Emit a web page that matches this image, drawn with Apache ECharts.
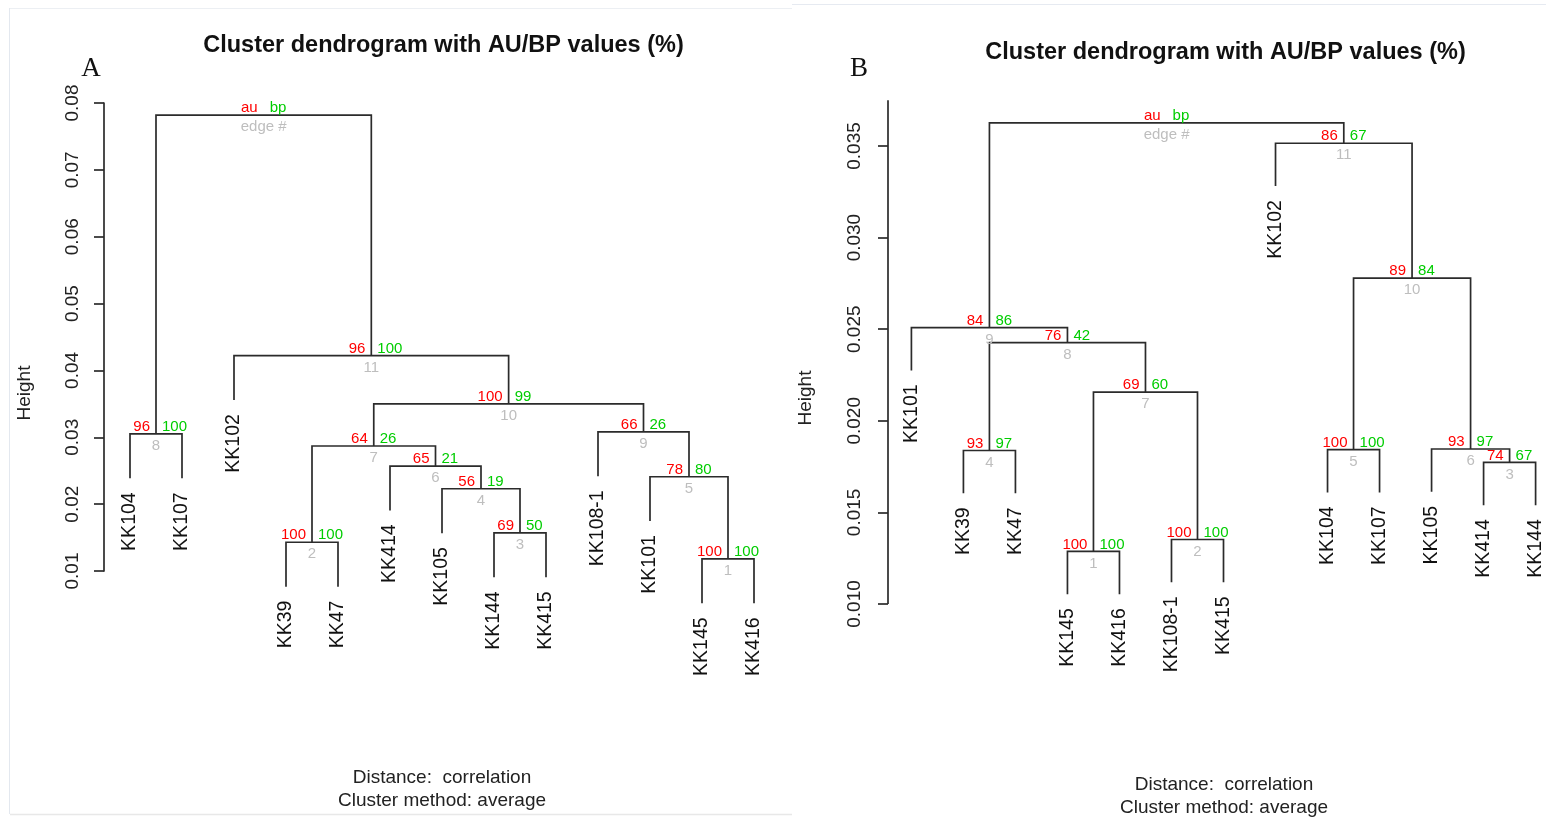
<!DOCTYPE html>
<html>
<head>
<meta charset="utf-8">
<title>Cluster dendrogram with AU/BP values (%)</title>
<script src="https://cdn.jsdelivr.net/npm/echarts@6/dist/echarts.min.js"></script>
<style>
  html, body { margin: 0; padding: 0; background: #fff; }
  #main { width: 1546px; height: 817px; }
</style>
</head>
<body>
<div id="main"></div>
<script>
// Panel A: leaves in plot order, merges as in hclust (negative = leaf position, positive = earlier merge row)
var leavesA = ['KK104', 'KK107', 'KK102', 'KK39', 'KK47', 'KK414', 'KK105', 'KK144', 'KK415', 'KK108-1', 'KK101', 'KK145', 'KK416'];
var mergeA = [[-12, -13], [-4, -5], [-8, -9], [-7, 3], [-11, 1], [-6, 4], [2, 6], [-1, -2], [-10, 5], [7, 9], [-3, 10], [8, 11]];
var heightA = [0.0118, 0.0143, 0.0157, 0.0223, 0.0241, 0.0257, 0.0287, 0.0305, 0.0308, 0.0350, 0.0422, 0.0782];
var auA = ['100', '100', '69', '56', '78', '65', '64', '96', '66', '100', '96', 'au'];
var bpA = ['100', '100', '50', '19', '80', '21', '26', '100', '26', '99', '100', 'bp'];
var ticksA = [0.01, 0.02, 0.03, 0.04, 0.05, 0.06, 0.07, 0.08];

// Panel B
var leavesB = ['KK101', 'KK39', 'KK47', 'KK145', 'KK416', 'KK108-1', 'KK415', 'KK102', 'KK104', 'KK107', 'KK105', 'KK414', 'KK144'];
var mergeB = [[-4, -5], [-6, -7], [-12, -13], [-2, -3], [-9, -10], [-11, 3], [1, 2], [4, 7], [-1, 8], [5, 6], [-8, 10], [9, 11]];
var heightB = [0.01287, 0.01352, 0.01773, 0.01838, 0.01843, 0.01846, 0.02156, 0.02427, 0.02509, 0.02779, 0.03515, 0.03626];
var auB = ['100', '100', '74', '93', '100', '93', '69', '76', '84', '89', '86', 'au'];
var bpB = ['100', '100', '67', '97', '100', '97', '60', '42', '86', '84', '67', 'bp'];
var ticksB = [0.010, 0.015, 0.020, 0.025, 0.030, 0.035];
var axisTopB = 0.0375;

var FONT = '"Liberation Sans", Arial, Helvetica, sans-serif';
var LINE = '#2b2b2b';

// turn merge rows into segment data, the way plot.hclust does (hang = 10% of height range)
function buildTree (merge, heights) {
  var hang = 0.1 * (Math.max.apply(null, heights) - Math.min.apply(null, heights));
  var nodeX = [];
  var nodes = [];
  var leaves = [];
  merge.forEach(function (pair, i) {
    var h = heights[i];
    var ends = pair.map(function (c) {
      if (c < 0) {
        leaves[-c - 1] = [-c - 1, h - hang];
        return [-c - 1, h - hang];
      }
      return [nodeX[c - 1], heights[c - 1]];
    });
    nodeX[i] = (ends[0][0] + ends[1][0]) / 2;
    nodes.push([ends[0][0], ends[1][0], h, ends[0][1], ends[1][1]]);
  });
  return { nodes: nodes, leaves: leaves };
}

function txt (x, y, s, color, align, size) {
  return {
    type: 'text', x: x, y: y,
    style: { text: s, fill: color, font: (size || 15) + 'px ' + FONT, align: align, verticalAlign: 'middle' }
  };
}

function nodeRenderer (au, bp) {
  return function (params, api) {
    var i = params.dataIndex;
    var xa = api.value(0), xb = api.value(1), h = api.value(2);
    var pts = [api.coord([xa, api.value(3)]), api.coord([xa, h]), api.coord([xb, h]), api.coord([xb, api.value(4)])];
    var mid = api.coord([(xa + xb) / 2, h]);
    var last = i === au.length - 1;
    return {
      type: 'group',
      children: [
        { type: 'polyline', shape: { points: pts }, style: { stroke: LINE, lineWidth: 1.7, fill: null } },
        txt(mid[0] - 6, mid[1] - 7, au[i], '#FF0000', 'right'),
        txt(mid[0] + 6, mid[1] - 7, bp[i], '#00CD00', 'left'),
        txt(mid[0], mid[1] + 12, last ? 'edge #' : String(i + 1), '#BEBEBE', 'center')
      ]
    };
  };
}

function leafRenderer (names) {
  return function (params, api) {
    var p = api.coord([api.value(0), api.value(1)]);
    return {
      type: 'text', x: p[0], y: p[1] + 14, rotation: Math.PI / 2,
      style: { text: names[params.dataIndex], fill: '#111', font: '19.5px ' + FONT, align: 'right', verticalAlign: 'middle' }
    };
  };
}

function yAxisOf (idx, ticks, digits, margin, showLine) {
  return {
    type: 'value', gridIndex: idx,
    min: ticks[0], max: ticks[ticks.length - 1],
    interval: idx === 0 ? 0.01 : 0.005,
    axisLine: { show: showLine, onZero: false, lineStyle: { color: LINE, width: 1.7 } },
    axisTick: { show: true, length: 10, lineStyle: { color: LINE, width: 1.7 } },
    axisLabel: {
      rotate: 90, margin: margin, color: '#222', fontSize: 19, fontFamily: FONT,
      formatter: function (v) { return v.toFixed(digits); }
    },
    splitLine: { show: false }
  };
}

var treeA = buildTree(mergeA, heightA);
var treeB = buildTree(mergeB, heightB);

var dom = document.getElementById('main');
var myChart = echarts.init(dom);

var option = {
  animation: false,
  backgroundColor: '#fff',
  grid: [
    { left: 104, top: 103, width: 676, height: 468 },
    { left: 888, top: 146, width: 659, height: 458 }
  ],
  xAxis: [
    { type: 'value', gridIndex: 0, min: -0.5, max: 12.5, show: false },
    { type: 'value', gridIndex: 1, min: -0.45, max: 12.2, show: false }
  ],
  yAxis: [
    yAxisOf(0, ticksA, 2, 22, true),
    yAxisOf(1, ticksB, 3, 24, false)
  ],
  series: [
    { type: 'custom', xAxisIndex: 0, yAxisIndex: 0, data: treeA.nodes, renderItem: nodeRenderer(auA, bpA) },
    { type: 'custom', xAxisIndex: 0, yAxisIndex: 0, data: treeA.leaves, renderItem: leafRenderer(leavesA) },
    { type: 'custom', xAxisIndex: 1, yAxisIndex: 1, data: treeB.nodes, renderItem: nodeRenderer(auB, bpB) },
    { type: 'custom', xAxisIndex: 1, yAxisIndex: 1, data: treeB.leaves, renderItem: leafRenderer(leavesB) },
    {
      // axis line of panel B runs a little above the last tick
      type: 'custom', xAxisIndex: 1, yAxisIndex: 1,
      data: [[-0.45, ticksB[0], axisTopB]],
      renderItem: function (params, api) {
        var a = api.coord([api.value(0), api.value(1)]);
        var b = api.coord([api.value(0), api.value(2)]);
        return { type: 'line', shape: { x1: a[0], y1: a[1], x2: b[0], y2: b[1] }, style: { stroke: LINE, lineWidth: 1.7 } };
      }
    }
  ],
  graphic: [
    // faint frames of the two pasted panels
    { type: 'line', shape: { x1: 9.5, y1: 8, x2: 9.5, y2: 814 }, style: { stroke: '#e3e8ef', lineWidth: 1 } },
    { type: 'line', shape: { x1: 10, y1: 8.5, x2: 792, y2: 8.5 }, style: { stroke: '#eceff3', lineWidth: 1 } },
    { type: 'line', shape: { x1: 10, y1: 814.5, x2: 792, y2: 814.5 }, style: { stroke: '#e8e8e8', lineWidth: 1.5 } },
    { type: 'line', shape: { x1: 792, y1: 4.5, x2: 1546, y2: 4.5 }, style: { stroke: '#e6eaf1', lineWidth: 1 } },
    // titles
    { type: 'text', x: 443.5, y: 46, style: { text: 'Cluster dendrogram with AU/BP values (%)', font: 'bold 23.5px ' + FONT, fill: '#111', align: 'center', verticalAlign: 'middle' } },
    { type: 'text', x: 1225.5, y: 53, style: { text: 'Cluster dendrogram with AU/BP values (%)', font: 'bold 23.5px ' + FONT, fill: '#111', align: 'center', verticalAlign: 'middle' } },
    { type: 'text', x: 91, y: 69, style: { text: 'A', font: '27px "Liberation Serif", "Times New Roman", serif', fill: '#111', align: 'center', verticalAlign: 'middle' } },
    { type: 'text', x: 859, y: 69, style: { text: 'B', font: '27px "Liberation Serif", "Times New Roman", serif', fill: '#111', align: 'center', verticalAlign: 'middle' } },
    // y axis names
    { type: 'text', x: 25, y: 393, rotation: Math.PI / 2, style: { text: 'Height', font: '19px ' + FONT, fill: '#222', align: 'center', verticalAlign: 'middle' } },
    { type: 'text', x: 806, y: 398, rotation: Math.PI / 2, style: { text: 'Height', font: '19px ' + FONT, fill: '#222', align: 'center', verticalAlign: 'middle' } },
    // sub captions
    { type: 'text', x: 442, y: 778, style: { text: 'Distance:  correlation', font: '19px ' + FONT, fill: '#222', align: 'center', verticalAlign: 'middle' } },
    { type: 'text', x: 442, y: 801, style: { text: 'Cluster method: average', font: '19px ' + FONT, fill: '#222', align: 'center', verticalAlign: 'middle' } },
    { type: 'text', x: 1224, y: 785, style: { text: 'Distance:  correlation', font: '19px ' + FONT, fill: '#222', align: 'center', verticalAlign: 'middle' } },
    { type: 'text', x: 1224, y: 808, style: { text: 'Cluster method: average', font: '19px ' + FONT, fill: '#222', align: 'center', verticalAlign: 'middle' } }
  ]
};

myChart.setOption(option);
</script>
</body>
</html>
